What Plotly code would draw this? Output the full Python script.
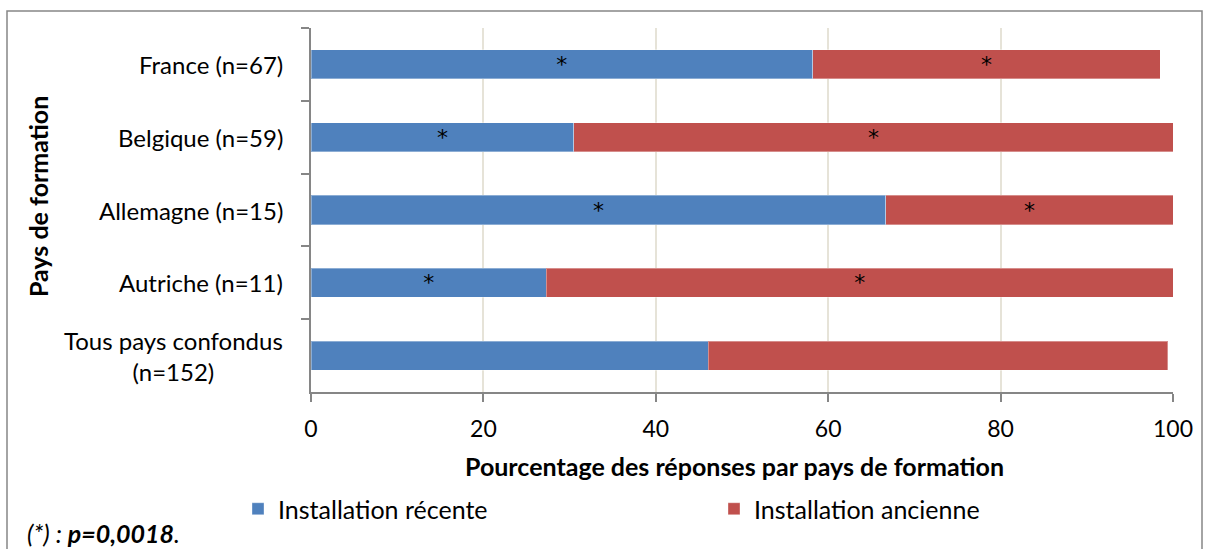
import plotly.graph_objects as go

# Survey responses by country of training (percent of respondents)
pays = [
    "France (n=67)",
    "Belgique (n=59)",
    "Allemagne (n=15)",
    "Autriche (n=11)",
    "Tous pays confondus<br>(n=152)",
]
recente = [58.2, 30.5, 66.7, 27.3, 46.1]
ancienne = [40.3, 69.5, 33.3, 72.7, 53.3]
# significance markers (*) per segment
sig_recente = ["*", "*", "*", "*", ""]
sig_ancienne = ["*", "*", "*", "*", ""]

x_ticks = [0, 20, 40, 60, 80, 100]

BLUE = "#4F81BD"
RED = "#C0504D"
FONT = "Lato"
GRID = "#E6E3D8"
AXIS = "#868686"

# plot area in pixels: x 311..1173, y 28..392
PX_L, PX_W, PX_B, PX_H = 311, 862, 392, 364


def px_x(px):
    return (px - PX_L) / PX_W


def px_y(py):
    return (PX_B - py) / PX_H


star_font = dict(color="black", size=22, family="DejaVu Sans")

fig = go.Figure()
fig.add_trace(go.Bar(
    y=pays, x=recente, orientation="h", name="Installation récente",
    marker=dict(color=BLUE, line=dict(color="rgba(255,255,255,0.35)", width=1)),
    text=sig_recente, textposition="inside", insidetextanchor="middle",
    textangle=0, constraintext="none", textfont=star_font,
    legend="legend", hoverinfo="x+y",
))
fig.add_trace(go.Bar(
    y=pays, x=ancienne, orientation="h", name="Installation ancienne",
    marker=dict(color=RED, line=dict(color="rgba(255,255,255,0.35)", width=1)),
    text=sig_ancienne, textposition="inside", insidetextanchor="middle",
    textangle=0, constraintext="none", textfont=star_font,
    legend="legend2", hoverinfo="x+y",
))

# category labels, centred line by line
annotations = []
for p in pays:
    annotations.append(dict(
        x=0, xref="paper", y=p, yref="y", xanchor="right", yanchor="middle",
        xshift=-26, text=p, showarrow=False, align="center",
        font=dict(family=FONT, size=24, color="black"),
    ))
annotations.append(dict(
    x=px_x(38), xref="paper", y=px_y(197), yref="paper",
    xanchor="center", yanchor="middle", textangle=-90,
    text="<b>Pays de formation</b>", showarrow=False,
    font=dict(family=FONT, size=25, color="black"),
))
annotations.append(dict(
    x=px_x(734), xref="paper", y=px_y(466), yref="paper",
    xanchor="center", yanchor="middle",
    text="<b>Pourcentage des réponses par pays de formation</b>", showarrow=False,
    font=dict(family=FONT, size=25, color="black"),
))
annotations.append(dict(
    x=px_x(25), xref="paper", y=px_y(533), yref="paper",
    xanchor="left", yanchor="middle",
    text="<i>(*) : <b>p=0,0018</b>.</i>", showarrow=False,
    font=dict(family=FONT, size=25, color="black"),
))

legend_font = dict(family=FONT, size=25, color="black")

fig.update_layout(
    width=1205, height=549,
    margin=dict(l=PX_L, r=1205 - PX_L - PX_W, t=PX_B - PX_H, b=549 - PX_B,
                autoexpand=False),
    paper_bgcolor="white", plot_bgcolor="white",
    barmode="stack", bargap=0.6,
    showlegend=True,
    legend=dict(x=px_x(238), y=px_y(509), xanchor="left", yanchor="middle",
                font=legend_font, bgcolor="rgba(0,0,0,0)"),
    legend2=dict(x=px_x(714), y=px_y(509), xanchor="left", yanchor="middle",
                 font=legend_font, bgcolor="rgba(0,0,0,0)"),
    xaxis=dict(
        range=[0, 100], tickvals=x_ticks, ticks="outside", ticklen=8,
        tickcolor=AXIS, tickwidth=1.5, ticklabelstandoff=8,
        showline=True, linecolor=AXIS, linewidth=1.5,
        showgrid=True, gridcolor=GRID, gridwidth=1.5, zeroline=False,
        tickfont=dict(family=FONT, size=23, color="black"),
        fixedrange=True,
    ),
    yaxis=dict(
        type="category", categoryorder="array", categoryarray=pays,
        autorange="reversed", tickson="boundaries",
        ticks="outside", ticklen=8, tickcolor=AXIS, tickwidth=1.5,
        showticklabels=False, showgrid=False,
        showline=True, linecolor=AXIS, linewidth=1.5, zeroline=False,
        fixedrange=True,
    ),
    annotations=annotations,
    shapes=[dict(
        type="rect", xref="paper", yref="paper", layer="below",
        x0=px_x(7), x1=px_x(1202), y0=px_y(560), y1=px_y(11),
        line=dict(color=AXIS, width=1.5), fillcolor="rgba(0,0,0,0)",
    )],
)

fig.write_html("out.html")
